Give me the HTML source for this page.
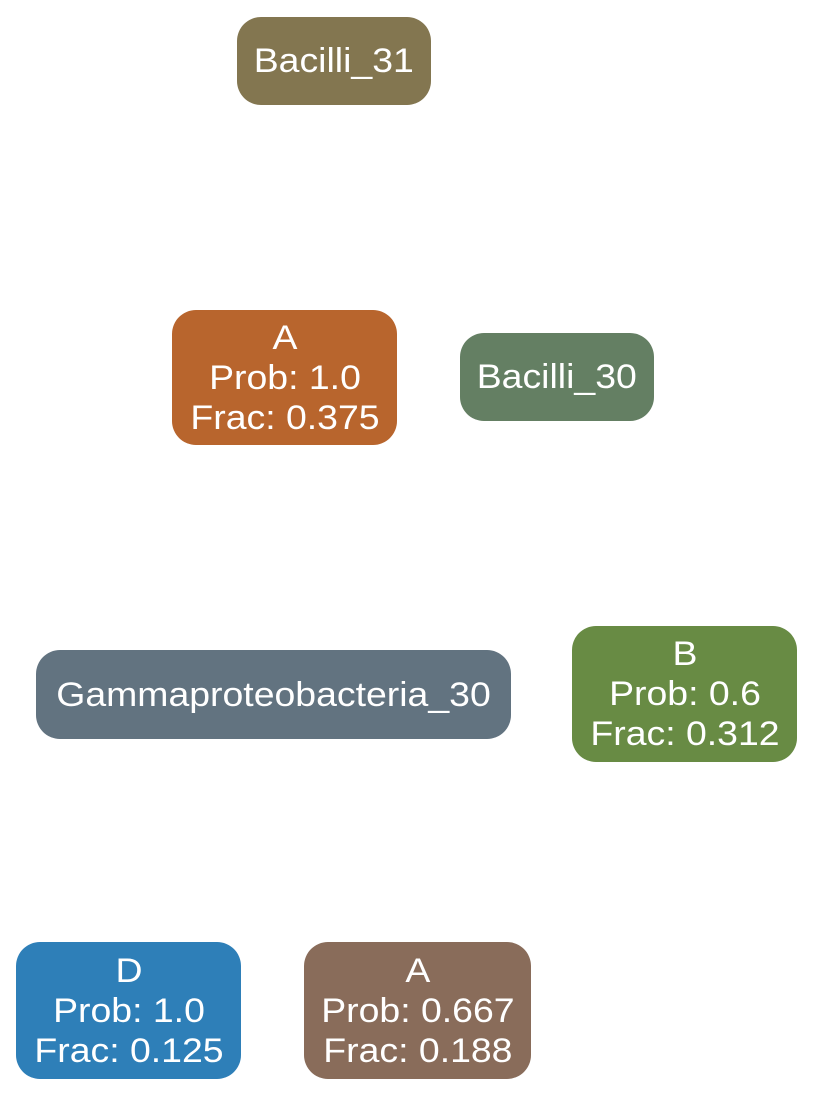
<!DOCTYPE html>
<html>
<head>
<meta charset="utf-8">
<style>
  html, body { margin:0; padding:0; background:#fff; }
  body { width:814px; height:1096px; position:relative; overflow:hidden;
         font-family:"Liberation Sans", Arial, sans-serif; }
  .node { position:absolute; box-sizing:border-box; border-radius:24px; color:#fff;
          display:flex; justify-content:center; align-items:center;
          font-size:34px; line-height:40px; text-align:center; white-space:nowrap; }
  .node .t { display:flex; flex-direction:column; align-items:center; transform:scaleX(1.1); }
</style>
</head>
<body>
  <div class="node"
       style="left:237px;top:17px;width:194px;height:88px;background:#837650;"><span class="t">Bacilli_31</span></div>
  <div class="node"
       style="left:172px;top:310px;width:225px;height:135px;background:#b8652d;">
       <span class="t"><span>A</span><span>Prob: 1.0</span><span>Frac: 0.375</span></span></div>
  <div class="node"
       style="left:460px;top:333px;width:194px;height:88px;background:#647f63;"><span class="t">Bacilli_30</span></div>
  <div class="node"
       style="left:36px;top:650px;width:475px;height:89px;background:#627380;"><span class="t">Gammaproteobacteria_30</span></div>
  <div class="node"
       style="left:572px;top:626px;width:225px;height:136px;background:#688b44;">
       <span class="t"><span>B</span><span>Prob: 0.6</span><span>Frac: 0.312</span></span></div>
  <div class="node"
       style="left:16px;top:942px;width:225px;height:137px;background:#2e7fb8;">
       <span class="t"><span>D</span><span>Prob: 1.0</span><span>Frac: 0.125</span></span></div>
  <div class="node"
       style="left:304px;top:942px;width:227px;height:137px;background:#896c5a;">
       <span class="t"><span>A</span><span>Prob: 0.667</span><span>Frac: 0.188</span></span></div>
</body>
</html>
